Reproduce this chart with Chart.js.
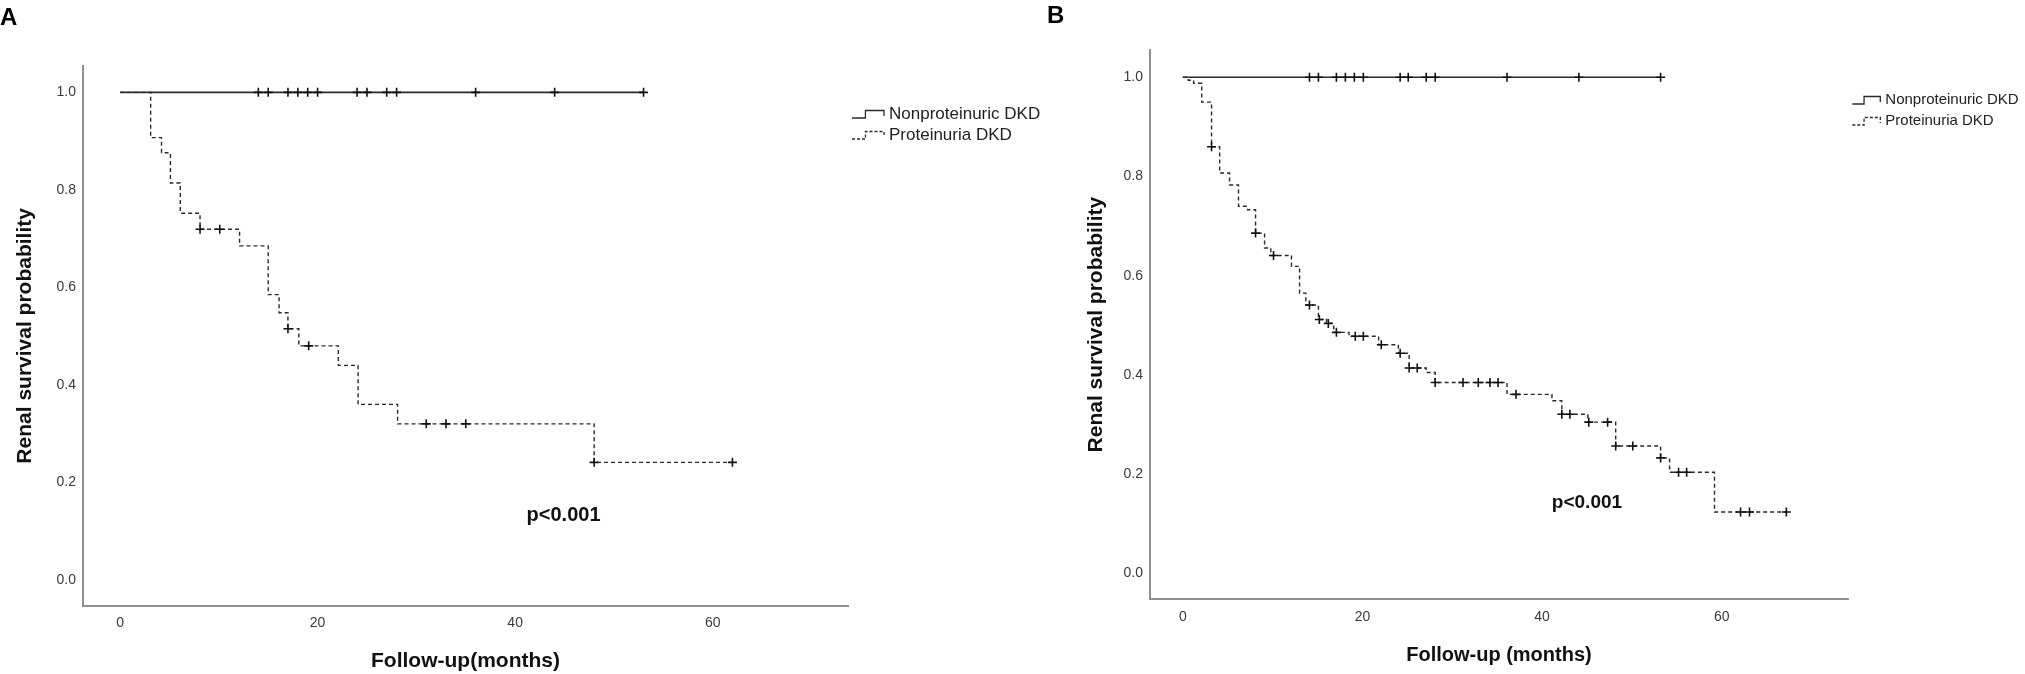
<!DOCTYPE html>
<html>
<head>
<meta charset="utf-8">
<title>Renal survival</title>
<script src="https://cdn.jsdelivr.net/npm/chart.js@4.4.1/dist/chart.umd.min.js"></script>
<style>
    html, body { margin: 0; padding: 0; background: #fff; }
    #wrap { position: relative; width: 2025px; height: 674px; overflow: hidden; }
    canvas { position: absolute; top: 0; }
    #graphA { left: 0; }
    #graphB { left: 1045px; }
</style>
</head>
<body>
<div id="wrap">
    <canvas id="graphA" width="1045" height="674"></canvas>
    <canvas id="graphB" width="980" height="674"></canvas>
</div>
<script>
// shared labels / ticks
const seriesNames = ['Nonproteinuric DKD', 'Proteinuria DKD'];
const monthTicks = [0, 20, 40, 60];
const probTicks = [0.0, 0.2, 0.4, 0.6, 0.8, 1.0];

// Panel A - Kaplan-Meier steps (months, survival)
const aNonTimes = [0, 53];
const aNonSurv = [1, 1];
const aNonCensorTimes = [14, 15, 17, 18, 19, 20, 24, 25, 27, 28, 36, 44, 53];
const aNonCensorSurv = [1, 1, 1, 1, 1, 1, 1, 1, 1, 1, 1, 1, 1];
const aProTimes = [0, 3.1, 4.2, 5.1, 6.1, 8.1, 12.1, 15.0, 16.1, 17.0, 18.1, 22.1, 24.1, 28.1, 48.0, 62];
const aProSurv = [1, 0.907, 0.876, 0.814, 0.752, 0.719, 0.685, 0.585, 0.548, 0.515, 0.48, 0.44, 0.36, 0.32, 0.241, 0.241];
const aProCensorTimes = [8.1, 10.1, 17.0, 19.1, 31, 33, 35, 48, 62];
const aProCensorSurv = [0.719, 0.719, 0.515, 0.48, 0.32, 0.32, 0.32, 0.241, 0.241];

// Panel B
const bNonTimes = [0, 53.2];
const bNonSurv = [1, 1];
const bNonCensorTimes = [14.1, 15.1, 17.1, 18.1, 19.1, 20.1, 24.2, 25.1, 27.1, 28.1, 36.1, 44.1, 53.2];
const bNonCensorSurv = [1, 1, 1, 1, 1, 1, 1, 1, 1, 1, 1, 1, 1];
const bProTimes = [0, 0.6, 1.2, 2.1, 3.2, 4.1, 5.2, 6.2, 7.2, 8.1, 9.1, 9.8, 12.1, 13.0, 13.7, 15.1, 16.0, 16.8, 18.5, 21.8,
    24.0, 25.2, 27.1, 28.1, 36.1, 41.1, 42.2, 45.1, 48.2, 53.2, 54.2, 59.2, 67.2];
const bProSurv = [1, 0.994, 0.988, 0.950, 0.860, 0.807, 0.783, 0.740, 0.733, 0.686, 0.656, 0.641, 0.619, 0.565, 0.541, 0.512, 0.504, 0.486, 0.478, 0.461,
    0.444, 0.414, 0.405, 0.385, 0.361, 0.348, 0.321, 0.305, 0.257, 0.233, 0.204, 0.124, 0.124];
const bProCensorTimes = [3.2, 8.1, 10.1, 14.1, 15.2, 16.2, 17.1, 19.2, 20.1, 22.1, 24.2, 25.2, 26.1, 28.1, 31.2, 32.9, 34.2, 35.1,
    37.1, 42.2, 43.1, 45.2, 47.3, 48.2, 50.1, 53.2, 55.2, 56.1, 62.1, 63.1, 67.2];
const bProCensorSurv = [0.860, 0.686, 0.641, 0.541, 0.512, 0.504, 0.486, 0.478, 0.478, 0.461, 0.444, 0.414, 0.414, 0.385, 0.385, 0.385, 0.385, 0.385,
    0.361, 0.321, 0.321, 0.305, 0.305, 0.257, 0.257, 0.233, 0.204, 0.204, 0.124, 0.124, 0.124];

const fontFamily = '"Liberation Sans", Arial, Helvetica, sans-serif';
const axisColor = '#8f8f8f';
const lineColor = '#2a2a2a';

const toPoints = (xs, ys) => xs.map((x, i) => ({ x: x, y: ys[i] }));

// draws panel letter, p value and the little step legend
const kmOverlay = {
    id: 'kmOverlay',
    afterDraw(chart, args, opts) {
        const ctx = chart.ctx;
        const area = chart.chartArea;
        const sx = chart.scales.x;
        const sy = chart.scales.y;
        ctx.save();
        ctx.fillStyle = '#000';
        ctx.font = 'bold 24px ' + fontFamily;
        ctx.textAlign = 'left';
        ctx.textBaseline = 'alphabetic';
        ctx.fillText(opts.letter, opts.letterPos[0], opts.letterPos[1]);

        ctx.font = 'bold ' + opts.pSize + 'px ' + fontFamily;
        ctx.textAlign = 'center';
        ctx.textBaseline = 'middle';
        ctx.fillStyle = '#111';
        ctx.fillText('p<0.001', sx.getPixelForValue(opts.pAt[0]), sy.getPixelForValue(opts.pAt[1]));

        ctx.font = opts.legendSize + 'px ' + fontFamily;
        ctx.textAlign = 'left';
        let lx = area.right + 4;
        let w = opts.symbolWidth;
        chart.data.datasets.slice(0, 2).forEach((ds, i) => {
            let ly = area.top + opts.legendTop + i * 21;
            ctx.beginPath();
            ctx.setLineDash(i === 0 ? [] : [3, 2]);
            ctx.lineWidth = 1.3;
            ctx.strokeStyle = ds.borderColor;
            ctx.moveTo(lx, ly + 4);
            ctx.lineTo(lx + w * 0.42, ly + 4);
            ctx.lineTo(lx + w * 0.42, ly - 3.5);
            ctx.lineTo(lx + w, ly - 3.5);
            ctx.lineTo(lx + w, ly + 2);
            ctx.stroke();
            ctx.setLineDash([]);
            ctx.fillStyle = '#222';
            ctx.fillText(ds.label, lx + w + 5, ly);
        });
        ctx.restore();
    }
};

const buildPanel = (canvasId, p) => {
    const ctx = document.getElementById(canvasId).getContext('2d');
    return new Chart(ctx, {
        type: 'scatter',
        data: {
            datasets: [{
                label: seriesNames[0],
                data: toPoints(p.nonTimes, p.nonSurv),
                showLine: true,
                stepped: true,
                borderColor: lineColor,
                borderWidth: 1.6,
                pointRadius: 0
            }, {
                label: seriesNames[1],
                data: toPoints(p.proTimes, p.proSurv),
                showLine: true,
                stepped: true,
                borderColor: lineColor,
                borderWidth: 1.4,
                borderDash: [4, 3],
                pointRadius: 0
            }, {
                label: seriesNames[0] + ' censored',
                data: toPoints(p.nonCensorTimes, p.nonCensorSurv),
                pointStyle: 'cross',
                pointRadius: 4.5,
                borderColor: '#111',
                borderWidth: 1.6,
                order: -1
            }, {
                label: seriesNames[1] + ' censored',
                data: toPoints(p.proCensorTimes, p.proCensorSurv),
                pointStyle: 'cross',
                pointRadius: 4.5,
                borderColor: '#111',
                borderWidth: 1.6,
                order: -1
            }]
        },
        options: {
            responsive: false,
            animation: false,
            events: [],
            layout: { padding: p.padding },
            plugins: {
                legend: { display: false },
                tooltip: { enabled: false },
                kmOverlay: p.overlay
            },
            scales: {
                x: {
                    type: 'linear',
                    min: p.xRange[0],
                    max: p.xRange[1],
                    afterFit: (s) => { s.height = p.xAxisHeight; },
                    afterBuildTicks: (s) => { s.ticks = monthTicks.map(v => ({ value: v })); },
                    grid: { display: false, drawTicks: false },
                    border: { display: true, color: axisColor, width: 2 },
                    ticks: {
                        color: '#3a3a3a',
                        padding: p.xTickPad,
                        font: { family: fontFamily, size: 14 },
                        callback: (v) => v
                    },
                    title: {
                        display: true,
                        text: p.xTitle,
                        color: '#111',
                        font: { family: fontFamily, size: p.xTitleSize, weight: 'bold' },
                        padding: { top: 0, bottom: p.xTitlePad }
                    }
                },
                y: {
                    type: 'linear',
                    min: p.yRange[0],
                    max: p.yRange[1],
                    afterFit: (s) => { s.width = p.yAxisWidth; },
                    afterBuildTicks: (s) => { s.ticks = probTicks.map(v => ({ value: v })); },
                    grid: { display: false, drawTicks: false },
                    border: { display: true, color: axisColor, width: 2 },
                    ticks: {
                        color: '#3a3a3a',
                        padding: p.yTickPad,
                        font: { family: fontFamily, size: 14 },
                        callback: (v) => Number(v).toFixed(1)
                    },
                    title: {
                        display: true,
                        text: 'Renal survival probability',
                        color: '#111',
                        font: { family: fontFamily, size: 21, weight: 'bold' },
                        padding: { top: 0, bottom: 0 }
                    }
                }
            }
        },
        plugins: [kmOverlay]
    });
};

const chartA = buildPanel('graphA', {
    nonTimes: aNonTimes, nonSurv: aNonSurv,
    nonCensorTimes: aNonCensorTimes, nonCensorSurv: aNonCensorSurv,
    proTimes: aProTimes, proSurv: aProSurv,
    proCensorTimes: aProCensorTimes, proCensorSurv: aProCensorSurv,
    padding: { top: 66, left: 13, right: 197, bottom: 0 },
    yAxisWidth: 70,
    xAxisHeight: 68.3,
    xRange: [-3.75, 73.7],
    yRange: [-0.053, 1.054],
    xTickPad: 8.6,
    yTickPad: 7,
    xTitle: 'Follow-up(months)',
    xTitleSize: 21,
    xTitlePad: 0,
    overlay: { letter: 'A', letterPos: [0, 25], pSize: 20, pAt: [44.9, 0.133], legendSize: 17, legendTop: 48, symbolWidth: 32 }
});

const chartB = buildPanel('graphB', {
    nonTimes: bNonTimes, nonSurv: bNonSurv,
    nonCensorTimes: bNonCensorTimes, nonCensorSurv: bNonCensorSurv,
    proTimes: bProTimes, proSurv: bProSurv,
    proCensorTimes: bProCensorTimes, proCensorSurv: bProCensorSurv,
    padding: { top: 50, left: 39, right: 176.7, bottom: 0 },
    yAxisWidth: 65.6,
    xAxisHeight: 74.7,
    xRange: [-3.7, 74.1],
    yRange: [-0.052, 1.055],
    xTickPad: 9,
    yTickPad: 6.6,
    xTitle: 'Follow-up (months)',
    xTitleSize: 20,
    xTitlePad: 7,
    overlay: { letter: 'B', letterPos: [2, 23], pSize: 19, pAt: [45.0, 0.142], legendSize: 15, legendTop: 50, symbolWidth: 28 }
});
</script>
</body>
</html>
